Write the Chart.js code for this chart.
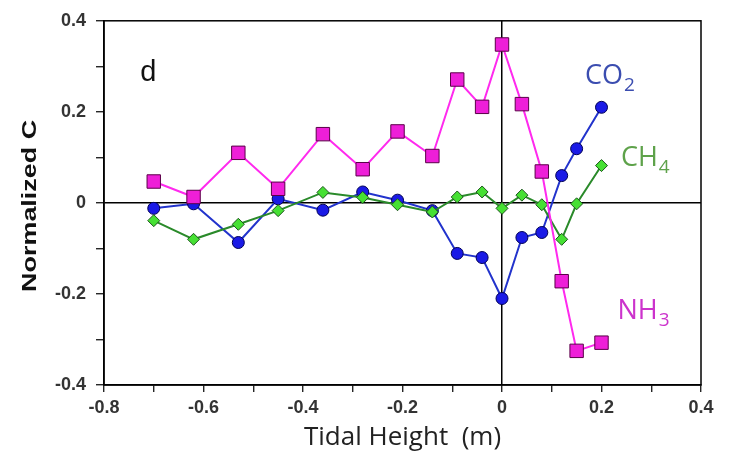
<!DOCTYPE html>
<html>
<head>
<meta charset="utf-8">
<script src="https://cdn.jsdelivr.net/npm/chart.js@4.4.1/dist/chart.umd.min.js"></script>
<style>
  html, body { margin: 0; padding: 0; background: #fff; }
  #wrap { width: 729px; height: 475px; }
</style>
</head>
<body>
<div id="wrap"><canvas id="tidal"></canvas></div>
<script>
// tidal height (m), shared by all three gases
const tidalHeight = [-0.70, -0.62, -0.53, -0.45, -0.36, -0.28, -0.21, -0.14, -0.09, -0.04, 0.00, 0.04, 0.08, 0.12, 0.15, 0.20];
// normalized concentrations
const nh3 = [0.047, 0.013, 0.110, 0.031, 0.151, 0.074, 0.157, 0.103, 0.271, 0.211, 0.348, 0.217, 0.069, -0.172, -0.325, -0.307];
const co2 = [-0.012, -0.002, -0.087, 0.009, -0.016, 0.024, 0.006, -0.017, -0.111, -0.120, -0.210, -0.076, -0.065, 0.060, 0.119, 0.210];
const ch4 = [-0.039, -0.080, -0.047, -0.017, 0.023, 0.012, -0.004, -0.020, 0.013, 0.024, -0.012, 0.017, -0.004, -0.080, -0.002, 0.082];

const xRange = [-0.8, 0.4];
const yRange = [-0.4, 0.4];

// in-plot labels: text, subscript, anchor (data units), colour
const seriesLabels = [
  { text: 'CO', sub: '2', x: 0.167, y: 0.262, color: '#3b4db0' },
  { text: 'CH', sub: '4', x: 0.239, y: 0.082, color: '#5ea24a' },
  { text: 'NH', sub: '3', x: 0.232, y: -0.256, color: '#cc33cc' }
];
const panelLetter = { text: 'd', x: -0.727, y: 0.268 };

function pts(ys) {
  return tidalHeight.map((x, i) => ({ x: x, y: ys[i] }));
}

function tickText(v) {
  const k = Math.round(v * 10);
  if (k % 2 !== 0) return '';
  if (k === 0) return '0';
  return (k / 10).toFixed(1);
}

// frame + panel letter + gas labels + y title
const decor = {
  id: 'decor',
  beforeDatasetsDraw(chart) {
    const a = chart.chartArea, c = chart.ctx;
    c.save();
    c.strokeStyle = '#000';
    c.lineWidth = 1.5;
    c.strokeRect(a.left, a.top, a.right - a.left, a.bottom - a.top);
    c.restore();
  },
  afterDraw(chart) {
    const c = chart.ctx, sx = chart.scales.x, sy = chart.scales.y;
    c.save();
    c.textBaseline = 'alphabetic';
    c.textAlign = 'left';
    c.fillStyle = '#111';
    c.font = '29px "Liberation Sans", Arial, sans-serif';
    c.fillText(panelLetter.text, sx.getPixelForValue(panelLetter.x), sy.getPixelForValue(panelLetter.y));

    seriesLabels.forEach(l => {
      const px = sx.getPixelForValue(l.x), py = sy.getPixelForValue(l.y);
      c.fillStyle = l.color;
      c.font = '27px "Open Sans", sans-serif';
      c.fillText(l.text, px, py);
      const w = c.measureText(l.text).width;
      c.font = '19px "Open Sans", sans-serif';
      c.fillText(l.sub, px + w + 1, py + 7);
    });

    // y axis title (stretched like the source figure)
    const a = chart.chartArea;
    c.translate(30, (a.top + a.bottom) / 2 + 3);
    c.rotate(-Math.PI / 2);
    c.font = 'bold 20px "Liberation Sans", Arial, sans-serif';
    const t = 'Normalized C';
    const tw = c.measureText(t).width;
    c.scale(172 / tw, 1);
    c.textAlign = 'center';
    c.textBaseline = 'middle';
    c.fillStyle = '#111';
    c.fillText(t, 0, 0);
    c.restore();
  }
};

const tickFont = { family: '"Liberation Sans", Arial, sans-serif', size: 18, weight: 'bold' };

const ctx = document.getElementById('tidal').getContext('2d');
const tidalChart = new Chart(ctx, {
  type: 'scatter',
  data: {
    datasets: [
      {
        label: 'NH3',
        data: pts(nh3),
        showLine: true,
        borderColor: '#ff2aee',
        borderWidth: 2,
        pointStyle: 'rect',
        pointRadius: 9.5,
        pointBackgroundColor: '#ee1fd8',
        pointBorderColor: '#5a0048',
        pointBorderWidth: 1
      },
      {
        label: 'CH4',
        data: pts(ch4),
        showLine: true,
        borderColor: '#2a8a2a',
        borderWidth: 2,
        pointStyle: 'rectRot',
        pointRadius: 6,
        pointBackgroundColor: '#46e033',
        pointBorderColor: '#1d551d',
        pointBorderWidth: 1
      },
      {
        label: 'CO2',
        data: pts(co2),
        showLine: true,
        borderColor: '#2233cc',
        borderWidth: 2,
        pointStyle: 'circle',
        pointRadius: 6,
        pointBackgroundColor: '#1a1ae6',
        pointBorderColor: '#000055',
        pointBorderWidth: 1
      }
    ]
  },
  options: {
    responsive: true,
    maintainAspectRatio: false,
    animation: false,
    layout: { padding: { top: 18, right: 28, left: 0, bottom: 0 } },
    plugins: {
      legend: { display: false },
      tooltip: { enabled: false }
    },
    scales: {
      x: {
        type: 'linear',
        min: xRange[0],
        max: xRange[1],
        afterFit: s => { s.height = 90; },
        ticks: {
          stepSize: 0.1,
          autoSkip: false,
          maxRotation: 0,
          padding: 5,
          color: '#333',
          font: tickFont,
          callback: v => tickText(v)
        },
        grid: {
          drawOnChartArea: true,
          color: c => (c.tick && Math.abs(c.tick.value) < 1e-9) ? '#000' : 'rgba(0,0,0,0)',
          lineWidth: 1.5,
          tickColor: '#000',
          tickLength: 7,
          tickWidth: 1.2
        },
        border: { color: '#000', width: 1.5 },
        title: {
          display: true,
          text: 'Tidal Height  (m)',
          color: '#222',
          font: { family: '"Open Sans", sans-serif', size: 26 },
          padding: { top: 0, bottom: 22 }
        }
      },
      y: {
        type: 'linear',
        min: yRange[0],
        max: yRange[1],
        afterFit: s => { s.width = 104; },
        ticks: {
          stepSize: 0.1,
          autoSkip: false,
          padding: 10,
          color: '#333',
          font: tickFont,
          callback: v => tickText(v)
        },
        grid: {
          drawOnChartArea: true,
          color: c => (c.tick && Math.abs(c.tick.value) < 1e-9) ? '#000' : 'rgba(0,0,0,0)',
          lineWidth: 1.5,
          tickColor: '#000',
          tickLength: 8,
          tickWidth: 1.2
        },
        border: { color: '#000', width: 1.5 }
      }
    }
  },
  plugins: [decor]
});
</script>
</body>
</html>
